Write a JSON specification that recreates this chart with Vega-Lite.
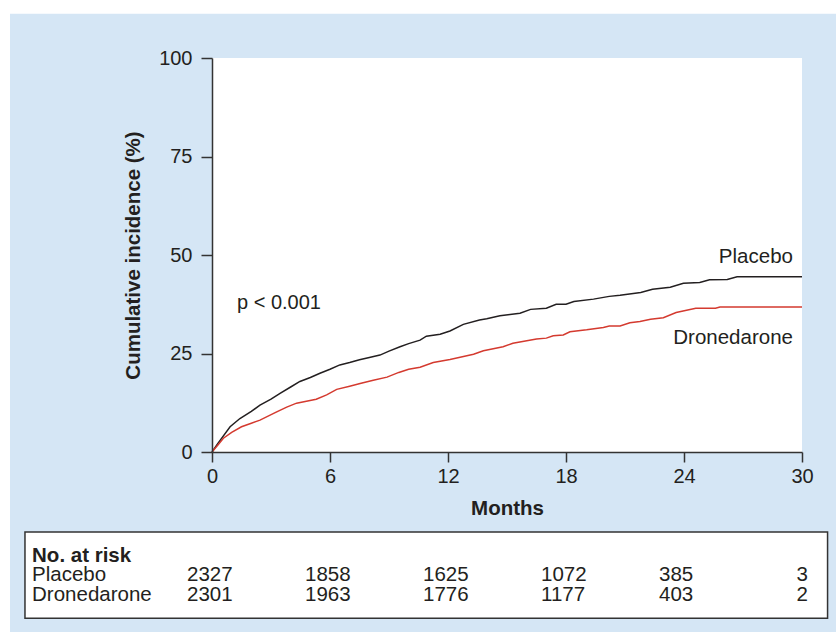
{
  "$schema": "https://vega.github.io/schema/vega-lite/v6.json",
  "autosize": {"type": "none"},
  "width": 590,
  "height": 394,
  "padding": {"left": 212, "top": 58, "right": 34, "bottom": 180},
  "background": "white",
  "config": {
    "font": "Liberation Sans",
    "view": {"stroke": null, "fill": null},
    "axis": {"grid": false, "domainColor": "#333333", "domainWidth": 1.5, "tickColor": "#333333", "tickWidth": 1.5, "labelFont": "Liberation Sans", "labelFontSize": 20, "labelColor": "#231f20", "titleFont": "Liberation Sans", "titleFontSize": 20.5, "titleFontWeight": "bold", "titleColor": "#231f20"}
  },
  "datasets": {
    "one": [{}],
    "curves": [
      {"group": "Placebo", "month": 0, "pct": 0},
      {"group": "Placebo", "month": 0.3, "pct": 2.2},
      {"group": "Placebo", "month": 0.92, "pct": 6.4},
      {"group": "Placebo", "month": 1.42, "pct": 8.5},
      {"group": "Placebo", "month": 2.0, "pct": 10.3},
      {"group": "Placebo", "month": 2.44, "pct": 11.9},
      {"group": "Placebo", "month": 3.0, "pct": 13.4},
      {"group": "Placebo", "month": 3.46, "pct": 14.9},
      {"group": "Placebo", "month": 4.0, "pct": 16.5},
      {"group": "Placebo", "month": 4.47, "pct": 17.9},
      {"group": "Placebo", "month": 5.0, "pct": 18.9},
      {"group": "Placebo", "month": 5.49, "pct": 20.0},
      {"group": "Placebo", "month": 6.0, "pct": 21.0},
      {"group": "Placebo", "month": 6.5, "pct": 22.1},
      {"group": "Placebo", "month": 7.0, "pct": 22.7},
      {"group": "Placebo", "month": 7.5, "pct": 23.4},
      {"group": "Placebo", "month": 8.0, "pct": 24.0},
      {"group": "Placebo", "month": 8.54, "pct": 24.6},
      {"group": "Placebo", "month": 9.0, "pct": 25.6},
      {"group": "Placebo", "month": 9.56, "pct": 26.7},
      {"group": "Placebo", "month": 10.0, "pct": 27.5},
      {"group": "Placebo", "month": 10.58, "pct": 28.4},
      {"group": "Placebo", "month": 10.9, "pct": 29.4},
      {"group": "Placebo", "month": 11.6, "pct": 29.9},
      {"group": "Placebo", "month": 12.1, "pct": 30.7},
      {"group": "Placebo", "month": 12.78, "pct": 32.4},
      {"group": "Placebo", "month": 13.6, "pct": 33.5},
      {"group": "Placebo", "month": 13.97, "pct": 33.8},
      {"group": "Placebo", "month": 14.64, "pct": 34.6},
      {"group": "Placebo", "month": 15.66, "pct": 35.2},
      {"group": "Placebo", "month": 16.2, "pct": 36.2},
      {"group": "Placebo", "month": 17.0, "pct": 36.5},
      {"group": "Placebo", "month": 17.5, "pct": 37.5},
      {"group": "Placebo", "month": 18.0, "pct": 37.5},
      {"group": "Placebo", "month": 18.4, "pct": 38.2},
      {"group": "Placebo", "month": 19.4, "pct": 38.8},
      {"group": "Placebo", "month": 20.2, "pct": 39.5},
      {"group": "Placebo", "month": 20.75, "pct": 39.8},
      {"group": "Placebo", "month": 21.8, "pct": 40.5},
      {"group": "Placebo", "month": 22.4, "pct": 41.3},
      {"group": "Placebo", "month": 23.3, "pct": 41.8},
      {"group": "Placebo", "month": 23.97, "pct": 42.8},
      {"group": "Placebo", "month": 24.8, "pct": 43.0},
      {"group": "Placebo", "month": 25.3, "pct": 43.7},
      {"group": "Placebo", "month": 26.2, "pct": 43.8},
      {"group": "Placebo", "month": 26.7, "pct": 44.5},
      {"group": "Placebo", "month": 30, "pct": 44.5},
      {"group": "Dronedarone", "month": 0, "pct": 0},
      {"group": "Dronedarone", "month": 0.3, "pct": 1.8},
      {"group": "Dronedarone", "month": 0.58, "pct": 3.5},
      {"group": "Dronedarone", "month": 1.0, "pct": 5.0},
      {"group": "Dronedarone", "month": 1.5, "pct": 6.4},
      {"group": "Dronedarone", "month": 2.0, "pct": 7.3},
      {"group": "Dronedarone", "month": 2.44, "pct": 8.1},
      {"group": "Dronedarone", "month": 3.29, "pct": 10.2},
      {"group": "Dronedarone", "month": 3.8, "pct": 11.4},
      {"group": "Dronedarone", "month": 4.3, "pct": 12.4},
      {"group": "Dronedarone", "month": 5.3, "pct": 13.4},
      {"group": "Dronedarone", "month": 5.83, "pct": 14.5},
      {"group": "Dronedarone", "month": 6.34, "pct": 15.9},
      {"group": "Dronedarone", "month": 7.0, "pct": 16.7},
      {"group": "Dronedarone", "month": 7.53, "pct": 17.4},
      {"group": "Dronedarone", "month": 8.2, "pct": 18.2},
      {"group": "Dronedarone", "month": 8.9, "pct": 19.0},
      {"group": "Dronedarone", "month": 9.5, "pct": 20.2},
      {"group": "Dronedarone", "month": 10.0, "pct": 21.0},
      {"group": "Dronedarone", "month": 10.58, "pct": 21.5},
      {"group": "Dronedarone", "month": 11.25, "pct": 22.7},
      {"group": "Dronedarone", "month": 12.1, "pct": 23.5},
      {"group": "Dronedarone", "month": 13.3, "pct": 24.8},
      {"group": "Dronedarone", "month": 13.8, "pct": 25.7},
      {"group": "Dronedarone", "month": 14.8, "pct": 26.7},
      {"group": "Dronedarone", "month": 15.3, "pct": 27.6},
      {"group": "Dronedarone", "month": 16.5, "pct": 28.7},
      {"group": "Dronedarone", "month": 17.0, "pct": 28.9},
      {"group": "Dronedarone", "month": 17.35, "pct": 29.5},
      {"group": "Dronedarone", "month": 17.86, "pct": 29.7},
      {"group": "Dronedarone", "month": 18.2, "pct": 30.5},
      {"group": "Dronedarone", "month": 19.05, "pct": 31.0},
      {"group": "Dronedarone", "month": 19.9, "pct": 31.6},
      {"group": "Dronedarone", "month": 20.2, "pct": 32.0},
      {"group": "Dronedarone", "month": 20.75, "pct": 32.0},
      {"group": "Dronedarone", "month": 21.25, "pct": 32.8},
      {"group": "Dronedarone", "month": 21.76, "pct": 33.1},
      {"group": "Dronedarone", "month": 22.3, "pct": 33.7},
      {"group": "Dronedarone", "month": 22.95, "pct": 34.1},
      {"group": "Dronedarone", "month": 23.6, "pct": 35.4},
      {"group": "Dronedarone", "month": 24.6, "pct": 36.5},
      {"group": "Dronedarone", "month": 25.6, "pct": 36.5},
      {"group": "Dronedarone", "month": 25.83, "pct": 36.8},
      {"group": "Dronedarone", "month": 30, "pct": 36.8}
    ],
    "risk": [
      {"group": "Placebo", "month": 0, "n": 2327},
      {"group": "Placebo", "month": 6, "n": 1858},
      {"group": "Placebo", "month": 12, "n": 1625},
      {"group": "Placebo", "month": 18, "n": 1072},
      {"group": "Placebo", "month": 24, "n": 385},
      {"group": "Placebo", "month": 30, "n": 3},
      {"group": "Dronedarone", "month": 0, "n": 2301},
      {"group": "Dronedarone", "month": 6, "n": 1963},
      {"group": "Dronedarone", "month": 12, "n": 1776},
      {"group": "Dronedarone", "month": 18, "n": 1177},
      {"group": "Dronedarone", "month": 24, "n": 403},
      {"group": "Dronedarone", "month": 30, "n": 2}
    ]
  },
  "layer": [
    {
      "data": {"name": "one"},
      "mark": {"type": "rect", "color": "#d5e6f5", "clip": false},
      "encoding": {
        "x": {"datum": -10.27, "type": "quantitative"},
        "x2": {"datum": 32.5},
        "y": {"datum": 111.2, "type": "quantitative"},
        "y2": {"datum": -47}
      }
    },
    {
      "data": {"name": "one"},
      "mark": {"type": "rect", "color": "white"},
      "encoding": {
        "x": {"datum": 0, "type": "quantitative"},
        "x2": {"datum": 30},
        "y": {"datum": 100, "type": "quantitative"},
        "y2": {"datum": 0}
      }
    },
    {
      "data": {"name": "curves"},
      "mark": {"type": "line", "strokeWidth": 1.5},
      "encoding": {
        "x": {"field": "month", "type": "quantitative", "scale": {"domain": [0, 30], "nice": false},
          "axis": {"values": [0, 6, 12, 18, 24, 30], "title": "Months", "tickSize": 10, "labelPadding": 4, "titlePadding": 12, "labelFlush": false, "zindex": 1}},
        "y": {"field": "pct", "type": "quantitative", "scale": {"domain": [0, 100], "nice": false},
          "axis": {"values": [0, 25, 50, 75, 100], "title": "Cumulative incidence (%)", "tickSize": 11, "labelPadding": 9, "titlePadding": 15, "zindex": 1}},
        "color": {"field": "group", "type": "nominal", "scale": {"domain": ["Placebo", "Dronedarone"], "range": ["#231f20", "#d43a2f"]}, "legend": null},
        "order": {"field": "month", "type": "quantitative"}
      }
    },
    {
      "data": {"name": "one"},
      "mark": {"type": "rect", "fill": "white", "stroke": "#333333", "strokeWidth": 1.5, "clip": false},
      "encoding": {
        "x": {"datum": -9.51, "type": "quantitative"},
        "x2": {"datum": 31.3},
        "y": {"datum": -20.3, "type": "quantitative"},
        "y2": {"datum": -42.2}
      }
    },
    {
      "data": {"name": "one"},
      "mark": {"type": "text", "text": "Placebo", "align": "right", "baseline": "alphabetic", "fontSize": 20.5, "color": "#231f20"},
      "encoding": {"x": {"datum": 29.54, "type": "quantitative"}, "y": {"datum": 48.0, "type": "quantitative"}}
    },
    {
      "data": {"name": "one"},
      "mark": {"type": "text", "text": "Dronedarone", "align": "right", "baseline": "alphabetic", "fontSize": 20.5, "color": "#231f20"},
      "encoding": {"x": {"datum": 29.54, "type": "quantitative"}, "y": {"datum": 27.4, "type": "quantitative"}}
    },
    {
      "data": {"name": "one"},
      "mark": {"type": "text", "text": "p < 0.001", "align": "left", "baseline": "alphabetic", "fontSize": 20, "color": "#231f20"},
      "encoding": {"x": {"datum": 1.27, "type": "quantitative"}, "y": {"datum": 36.3, "type": "quantitative"}}
    },
    {
      "data": {"name": "one"},
      "mark": {"type": "text", "text": "No. at risk", "align": "left", "baseline": "alphabetic", "fontSize": 20.5, "fontWeight": "bold", "color": "#231f20"},
      "encoding": {"x": {"datum": -9.15, "type": "quantitative"}, "y": {"datum": -27.9, "type": "quantitative"}}
    },
    {
      "data": {"name": "one"},
      "mark": {"type": "text", "text": "Placebo", "align": "left", "baseline": "alphabetic", "fontSize": 20.5, "color": "#231f20"},
      "encoding": {"x": {"datum": -9.15, "type": "quantitative"}, "y": {"datum": -32.7, "type": "quantitative"}}
    },
    {
      "data": {"name": "one"},
      "mark": {"type": "text", "text": "Dronedarone", "align": "left", "baseline": "alphabetic", "fontSize": 20.5, "color": "#231f20"},
      "encoding": {"x": {"datum": -9.15, "type": "quantitative"}, "y": {"datum": -37.8, "type": "quantitative"}}
    },
    {
      "data": {"name": "risk"},
      "transform": [{"filter": "datum.group == 'Placebo' && datum.month < 30"}],
      "mark": {"type": "text", "align": "left", "baseline": "alphabetic", "dx": -25, "fontSize": 20.5, "color": "#231f20"},
      "encoding": {"x": {"field": "month", "type": "quantitative"}, "y": {"datum": -32.7, "type": "quantitative"}, "text": {"field": "n", "type": "quantitative", "format": "d"}}
    },
    {
      "data": {"name": "risk"},
      "transform": [{"filter": "datum.group == 'Dronedarone' && datum.month < 30"}],
      "mark": {"type": "text", "align": "left", "baseline": "alphabetic", "dx": -25, "fontSize": 20.5, "color": "#231f20"},
      "encoding": {"x": {"field": "month", "type": "quantitative"}, "y": {"datum": -37.8, "type": "quantitative"}, "text": {"field": "n", "type": "quantitative", "format": "d"}}
    },
    {
      "data": {"name": "risk"},
      "transform": [{"filter": "datum.group == 'Placebo' && datum.month == 30"}],
      "mark": {"type": "text", "align": "right", "baseline": "alphabetic", "dx": 6, "fontSize": 20.5, "color": "#231f20"},
      "encoding": {"x": {"field": "month", "type": "quantitative"}, "y": {"datum": -32.7, "type": "quantitative"}, "text": {"field": "n", "type": "quantitative", "format": "d"}}
    },
    {
      "data": {"name": "risk"},
      "transform": [{"filter": "datum.group == 'Dronedarone' && datum.month == 30"}],
      "mark": {"type": "text", "align": "right", "baseline": "alphabetic", "dx": 6, "fontSize": 20.5, "color": "#231f20"},
      "encoding": {"x": {"field": "month", "type": "quantitative"}, "y": {"datum": -37.8, "type": "quantitative"}, "text": {"field": "n", "type": "quantitative", "format": "d"}}
    }
  ]
}
